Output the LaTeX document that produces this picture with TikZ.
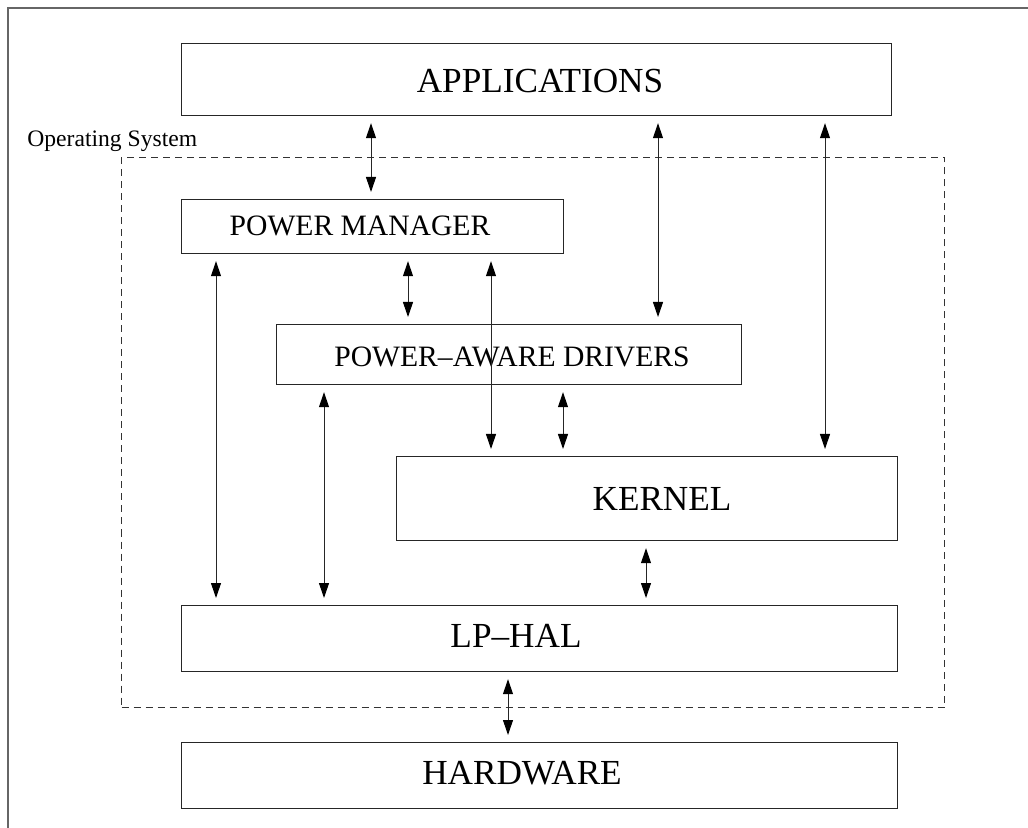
\documentclass[tikz,border=0pt]{standalone}
\usepackage{fontspec}
\setmainfont{Liberation Serif}
\usetikzlibrary{arrows.meta}
\begin{document}
\begin{tikzpicture}[x=0.5pt,y=-0.5pt,
  layerbox/.style={draw=black!85, line width=0.6pt, inner sep=0pt, anchor=north west},
  bigtxt/.style={inner sep=0pt, font=\fontsize{17.6}{20}\selectfont},
  midtxt/.style={inner sep=0pt, font=\fontsize{14.8}{17}\selectfont},
  smalltxt/.style={inner sep=0pt, font=\fontsize{11.8}{14}\selectfont},
  arr/.style={draw=black!85, line width=0.5pt, {Triangle[length=7.5pt,width=5pt,color=black]}-{Triangle[length=7.5pt,width=5pt,color=black]}, shorten <=3.5pt, shorten >=3.5pt},
  frameline/.style={draw=black!60, line width=0.9pt},
  osbox/.style={draw=black!80, line width=0.5pt, dash pattern=on 3.5pt off 2.5pt, inner sep=0pt, anchor=north west}]
\useasboundingbox (0,0) rectangle (1028,828);
% outer frame (left and top only)
\coordinate (fbl) at (8,828);
\coordinate (ftl) at (8,8);
\coordinate (ftr) at (1028,8);
\draw[frameline] (fbl) -- (ftl) -- (ftr);
% dashed operating system region
\node[osbox, minimum width=411.5pt, minimum height=275pt] (os) at (121,157) {};
\node[smalltxt, anchor=base west] (oslabel) at (27,147) {Operating System};
% boxes
\node[layerbox, minimum width=355pt, minimum height=36pt] (app) at (181,43) {};
\node[layerbox, minimum width=191pt, minimum height=27pt] (pm) at (181,199) {};
\node[layerbox, minimum width=232.5pt, minimum height=30pt] (pad) at (276,324) {};
\node[layerbox, minimum width=250.5pt, minimum height=42pt] (ker) at (396,456) {};
\node[layerbox, minimum width=358pt, minimum height=33pt] (hal) at (181,605) {};
\node[layerbox, minimum width=358pt, minimum height=33pt] (hw) at (181,742) {};
% texts
\node[bigtxt] (apptxt) at (540,81) {APPLICATIONS};
\node[midtxt] (pmtxt) at (360,226) {POWER MANAGER};
\node[midtxt] (padtxt) at (512,357) {POWER–AWARE DRIVERS};
\node[bigtxt] (kertxt) at (662,499) {KERNEL};
\node[bigtxt] (haltxt) at (516,636) {LP–HAL};
\node[bigtxt] (hwtxt) at (522,773) {HARDWARE};
% arrow columns
\coordinate (c1) at (371,0);
\coordinate (c2) at (658,0);
\coordinate (c3) at (825,0);
\coordinate (c4) at (408,0);
\coordinate (c5) at (491,0);
\coordinate (c6) at (563,0);
\coordinate (c7) at (216,0);
\coordinate (c8) at (324,0);
\coordinate (c9) at (646,0);
\coordinate (c10) at (508,0);
\draw[arr] (app.south -| c1) -- (pm.north -| c1);
\draw[arr] (app.south -| c2) -- (pad.north -| c2);
\draw[arr] (app.south -| c3) -- (ker.north -| c3);
\draw[arr] (pm.south -| c4) -- (pad.north -| c4);
\draw[arr] (pm.south -| c5) -- (ker.north -| c5);
\draw[arr] (pad.south -| c6) -- (ker.north -| c6);
\draw[arr] (pm.south -| c7) -- (hal.north -| c7);
\draw[arr] (pad.south -| c8) -- (hal.north -| c8);
\draw[arr] (ker.south -| c9) -- (hal.north -| c9);
\draw[arr] (hal.south -| c10) -- (hw.north -| c10);
\end{tikzpicture}
\end{document}
